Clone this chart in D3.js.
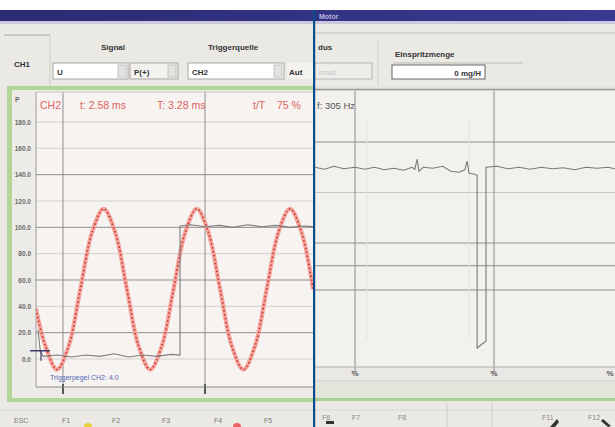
<!DOCTYPE html>
<html><head><meta charset="utf-8">
<script src="https://cdn.jsdelivr.net/npm/d3@7/dist/d3.min.js"></script>
<style>
html,body{margin:0;padding:0;background:#fff;}
svg{display:block;font-family:"Liberation Sans",Arial,sans-serif;}
</style></head>
<body>
<script>
// ---------- DATA ----------
const leftTickValues = [180,160,140,120,100,80,60,40,20,0];
const leftTickLabels = ["180.0","160.0","140.0","120.0","100.0","80.0","60.0","40.0","20.0","0.0"];
const leftDarkGrid = [140,100,60,20];
const leftXGrid = [1,6];               // ms
const redT = [0.05,0.38,0.79,1.20,1.61,2.02,2.43,2.84,3.25,3.66,4.07,4.48,4.89,5.30,5.71,6.12,6.53,6.94,7.35,7.76,8.17,8.58,8.99,9.40,9.80];
const redV = [38,10,-8,10,53,96,114,96,53,10,-8,10,53,96,114,96,53,10,-8,10,53,96,114,96,53];
const grayT = [0.12,0.2,0.3,0.8,1.3,1.8,2.3,2.8,3.3,3.8,4.3,4.8,5.12,5.12,5.5,6.0,6.5,7.0,7.5,8.0,8.5,9.0,9.5,9.8];
const grayV = [22,6,2,3,1.5,3,2,4,1.5,3,2,3.5,3,101,102,100.5,101.5,100,102,100.5,101.5,100,101,100.5];
const triggerLevel = 4.0;
const rightT = [-2.88,-2.2,-1.5,-0.8,0,0.7,1.4,2.1,2.8,3.5,4.1,4.3,4.46,4.6,4.9,5.6,6.3,6.9,7.5,7.9,8.06,8.2,8.6,8.78,8.78,9.42,9.42,10.2,11,11.8,12.6,13.4,14.2,15,15.8,16.6,17.4,18.2,18.7];
const rightV = [1.5,1.46,1.52,1.47,1.5,1.46,1.5,1.45,1.48,1.44,1.5,1.46,1.66,1.42,1.5,1.48,1.52,1.42,1.4,1.45,1.62,1.38,1.36,1.34,-2.08,-1.94,1.5,1.52,1.47,1.5,1.46,1.5,1.47,1.49,1.45,1.5,1.48,1.5,1.47];
const rightDarkGrid = [2,0,-0.45,-0.93];
const rightLightGrid = [1];
const rightXDark = [0,10];
const rightXLight = [0.86,8.2];
const rightMarkers = [0,10,18.35];
const measureText = ["CH2","t: 2.58 ms","T: 3.28 ms","t/T","75 %"];
const freqText = "f: 305 Hz";
const triggerText = "Triggerpegel CH2: 4.0";
const fKeysLeft = ["ESC","F1","F2","F3","F4","F5"];
const fKeysRight = ["F6","F7","F8","F11","F12"];

// ---------- LAYOUT ----------
const W=615,H=427;
const svg=d3.select("body").append("svg").attr("width",W).attr("height",H);
svg.append("rect").attr("width",W).attr("height",H).attr("fill","#ebe9e4");
svg.append("rect").attr("width",W).attr("height",10).attr("fill","#ffffff");
// title bar
const tg=svg.append("defs").append("linearGradient").attr("id","tb").attr("x1",0).attr("x2",1);
tg.append("stop").attr("offset",0).attr("stop-color","#2c2a72");
tg.append("stop").attr("offset",1).attr("stop-color","#3a3992");
svg.append("rect").attr("y",10).attr("width",W).attr("height",11).attr("fill","url(#tb)");
svg.append("rect").attr("y",21).attr("width",W).attr("height",3).attr("fill","#c9c8dc");
svg.append("text").attr("x",319).attr("y",18.5).attr("font-size",7).attr("font-weight","bold").attr("fill","#b8b8e0").text("Motor");

// header
svg.append("line").attr("x1",4).attr("x2",50).attr("y1",35).attr("y2",35).attr("stroke","#a9a8a4");
svg.append("line").attr("x1",50).attr("x2",50).attr("y1",35).attr("y2",86).attr("stroke","#cfcdc8");
svg.append("line").attr("x1",315).attr("x2",615).attr("y1",33).attr("y2",33).attr("stroke","#c2c0bb");
function hText(x,y,t,anchor){
  return svg.append("text").attr("x",x).attr("y",y).attr("text-anchor",anchor||"start")
    .attr("font-size",8).attr("font-weight","bold").attr("fill","#333").text(t);
}
hText(14,67,"CH1");
hText(113,50,"Signal","middle");
hText(233,50,"Triggerquelle","middle");
function combo(x,w,label,fill,txtFill){
  svg.append("rect").attr("x",x).attr("y",63).attr("width",w).attr("height",16).attr("fill",fill).attr("stroke","#a5a5a5");
  svg.append("rect").attr("x",x+w-10).attr("y",65).attr("width",8).attr("height",12).attr("fill","#e4e2de").attr("stroke","#c4c4c4");
  svg.append("text").attr("x",x+4).attr("y",74.5).attr("font-size",8).attr("font-weight","bold").attr("fill",txtFill).text(label);
}
combo(53,75,"U","#ffffff","#333");
combo(130,48,"P(+)","#f3f2ef","#333");
combo(188,96,"CH2","#ffffff","#333");
svg.append("rect").attr("x",287).attr("y",63).attr("width",27).attr("height",16).attr("fill","#f3f2ef");
hText(289,74.5,"Aut");
// right header
hText(318,50,"dus");
svg.append("rect").attr("x",315).attr("y",63).attr("width",57).attr("height",16).attr("fill","#eeede9").attr("stroke","#b5b5b5");
svg.append("text").attr("x",318).attr("y",74.5).attr("font-size",8).attr("fill","#c4c4c4").text("omat");
svg.append("line").attr("x1",378).attr("x2",378).attr("y1",40).attr("y2",85).attr("stroke","#cfcdc8");
hText(395,57,"Einspritzmenge");
svg.append("line").attr("x1",393).attr("x2",523).attr("y1",63).attr("y2",63).attr("stroke","#bdbbb6");
svg.append("rect").attr("x",392).attr("y",65).attr("width",93).attr("height",14).attr("fill","#ffffff").attr("stroke","#666");
hText(481,75.5,"0 mg/H","end");

// ---------- LEFT PANEL ----------
svg.append("rect").attr("x",7).attr("y",86).attr("width",307).attr("height",316).attr("fill","#b3d598");
svg.append("rect").attr("x",12).attr("y",90).attr("width",302).attr("height",308).attr("fill","#ecebe7");
svg.append("rect").attr("x",36).attr("y",92).attr("width",278).attr("height",295).attr("fill","#f6f3f1");

const xL=d3.scaleLinear().domain([0.05,9.8]).range([36,313]);
const yL=d3.scaleLinear().domain([0,180]).range([359,122]);
const gL=svg.append("g");
gL.selectAll(".hl").data(leftTickValues).join("line")
  .attr("x1",36).attr("x2",313).attr("y1",d=>yL(d)).attr("y2",d=>yL(d))
  .attr("stroke",d=>leftDarkGrid.includes(d)?"#8f8f8f":"#d2d0ce").attr("stroke-width",1);
gL.selectAll(".vl").data(leftXGrid).join("line")
  .attr("x1",d=>xL(d)).attr("x2",d=>xL(d)).attr("y1",92).attr("y2",392).attr("stroke","#8f8f8f");
gL.selectAll(".tk").data(leftXGrid).join("line")
  .attr("x1",d=>xL(d)).attr("x2",d=>xL(d)).attr("y1",384).attr("y2",394).attr("stroke","#555").attr("stroke-width",2);
svg.append("line").attr("x1",36).attr("x2",36).attr("y1",92).attr("y2",387).attr("stroke","#9a9a9a");
svg.append("line").attr("x1",36).attr("x2",313).attr("y1",387).attr("y2",387).attr("stroke","#8a8a8a");
svg.append("line").attr("x1",36).attr("x2",313).attr("y1",92).attr("y2",92).attr("stroke","#c8c6c2");

const axL=svg.append("g").attr("transform","translate(34,0)")
  .call(d3.axisLeft(yL).tickValues(leftTickValues).tickSize(0).tickFormat((d,i)=>leftTickLabels[i]));
axL.select(".domain").remove();
axL.selectAll("text").attr("font-size",6.5).attr("font-weight","bold").attr("fill","#6a6a6a").attr("font-family","Liberation Sans, Arial, sans-serif");
svg.append("text").attr("x",15).attr("y",102).attr("font-size",7).attr("font-weight","bold").attr("fill","#6a6a6a").text("P");

// clip
svg.append("defs").append("clipPath").attr("id","clipL").append("rect").attr("x",36).attr("y",92).attr("width",277).attr("height",295);
const redData=redT.map((t,i)=>[t,redV[i]]);
const lineRed=d3.line().x(d=>xL(d[0])).y(d=>yL(d[1])).curve(d3.curveCatmullRom.alpha(0.5));
const gClip=svg.append("g").attr("clip-path","url(#clipL)");
gClip.append("path").attr("d",lineRed(redData)).attr("fill","none").attr("stroke","#f3a49c").attr("stroke-width",4.2);
gClip.append("path").attr("d",lineRed(redData)).attr("fill","none").attr("stroke","#c8332b").attr("stroke-width",1.6).attr("stroke-dasharray","1.5,2.5");
const grayData=grayT.map((t,i)=>[t,grayV[i]]);
const lineG=d3.line().x(d=>xL(d[0])).y(d=>yL(d[1]));
gClip.append("path").attr("d",lineG(grayData)).attr("fill","none").attr("stroke","#7d7d7d").attr("stroke-width",1.1);
// trigger marker
const ty=yL(triggerLevel);
svg.append("line").attr("x1",30).attr("x2",50).attr("y1",ty-3).attr("y2",ty-3).attr("stroke","#3b3b6e").attr("stroke-width",1.5);
svg.append("line").attr("x1",41).attr("x2",41).attr("y1",ty-3).attr("y2",ty+7).attr("stroke","#3b3b6e").attr("stroke-width",1.2);
svg.append("text").attr("x",50).attr("y",380).attr("font-size",7).attr("fill","#5565b5").text(triggerText);
// measurement text
const mx=[40,80,157,253,277];
svg.append("g").selectAll("text").data(measureText).join("text")
  .attr("x",(d,i)=>mx[i]).attr("y",109).attr("font-size",10.5).attr("fill","#e06262").text(d=>d);

// ---------- RIGHT PANEL ----------
svg.append("rect").attr("x",315).attr("y",86).attr("width",300).attr("height",6).attr("fill","#e4e2de");
svg.append("line").attr("x1",315).attr("x2",615).attr("y1",89.5).attr("y2",89.5).attr("stroke","#9c9a96").attr("stroke-width",1.5);
svg.append("rect").attr("x",315).attr("y",91).attr("width",300).attr("height",276).attr("fill","#f3f1ee");
svg.append("rect").attr("x",315).attr("y",367).attr("width",300).attr("height",16).attr("fill","#e9e8e4");
svg.append("rect").attr("x",315).attr("y",383).attr("width",300).attr("height",15).attr("fill","#e2e6d9");
svg.append("rect").attr("x",315).attr("y",398).attr("width",300).attr("height",3).attr("fill","#a9cf8e");
const xR=d3.scaleLinear().domain([-2.88,18.7]).range([315,615]);
const yR=d3.scaleLinear().domain([0,2]).range([243,142]);
const gR=svg.append("g");
gR.selectAll(".rl").data(rightLightGrid).join("line").attr("x1",315).attr("x2",615)
  .attr("y1",d=>yR(d)).attr("y2",d=>yR(d)).attr("stroke","#c9c7c3");
gR.selectAll(".rd").data(rightDarkGrid).join("line").attr("x1",315).attr("x2",615)
  .attr("y1",d=>yR(d)).attr("y2",d=>yR(d)).attr("stroke","#8f8f8f");
gR.selectAll(".rvl").data(rightXLight).join("line").attr("x1",d=>xR(d)).attr("x2",d=>xR(d))
  .attr("y1",118).attr("y2",340).attr("stroke","#e6e4e0");
gR.selectAll(".rvd").data(rightXDark).join("line").attr("x1",d=>xR(d)).attr("x2",d=>xR(d))
  .attr("y1",91).attr("y2",372).attr("stroke","#8f8f8f");
svg.append("line").attr("x1",315).attr("x2",615).attr("y1",367).attr("y2",367).attr("stroke","#b0aeaa");
svg.append("line").attr("x1",315).attr("x2",615).attr("y1",381).attr("y2",381).attr("stroke","#cfcdc8");
gR.selectAll(".mk").data(rightMarkers).join("text").attr("x",d=>xR(d)).attr("y",376)
  .attr("text-anchor","middle").attr("font-size",8).attr("font-weight","bold").attr("fill","#555").text("%");
const rData=rightT.map((t,i)=>[t,rightV[i]]);
const lineR=d3.line().x(d=>xR(d[0])).y(d=>yR(d[1]));
gR.append("path").attr("d",lineR(rData)).attr("fill","none").attr("stroke","#7a7a7a").attr("stroke-width",1.1);
svg.append("text").attr("x",317).attr("y",109).attr("font-size",9.5).attr("fill","#555").text(freqText);

// ---------- TOOLBAR ----------
svg.append("line").attr("x1",0).attr("x2",615).attr("y1",410).attr("y2",410).attr("stroke","#d8d6d1");
const fxL=[14,62,112,162,214,264];
svg.append("g").selectAll("text").data(fKeysLeft).join("text").attr("x",(d,i)=>fxL[i]).attr("y",423)
  .attr("font-size",7).attr("fill","#777").text(d=>d);
const fxR=[322,352,398,542,588];
svg.append("g").selectAll("text").data(fKeysRight).join("text").attr("x",(d,i)=>fxR[i]).attr("y",420)
  .attr("font-size",7).attr("fill","#888").text(d=>d);
svg.append("circle").attr("cx",88).attr("cy",427).attr("r",4).attr("fill","#e8d23a");
svg.append("circle").attr("cx",237).attr("cy",427).attr("r",4).attr("fill","#e86060");
svg.append("rect").attr("x",326).attr("y",421).attr("width",8).attr("height",3).attr("fill","#333");
svg.append("path").attr("d","M550,427 L557,419 L559,422 L555,427 Z").attr("fill","#333");
svg.append("path").attr("d","M603,419 L611,426 L608,427 L601,421 Z").attr("fill","#333");
[447,492].forEach(x=>svg.append("line").attr("x1",x).attr("x2",x).attr("y1",403).attr("y2",427).attr("stroke","#cfcdc8"));

// divider
svg.append("rect").attr("x",313).attr("y",10).attr("width",2.2).attr("height",417).attr("fill","#0b4d8c");
</script>
</body></html>
